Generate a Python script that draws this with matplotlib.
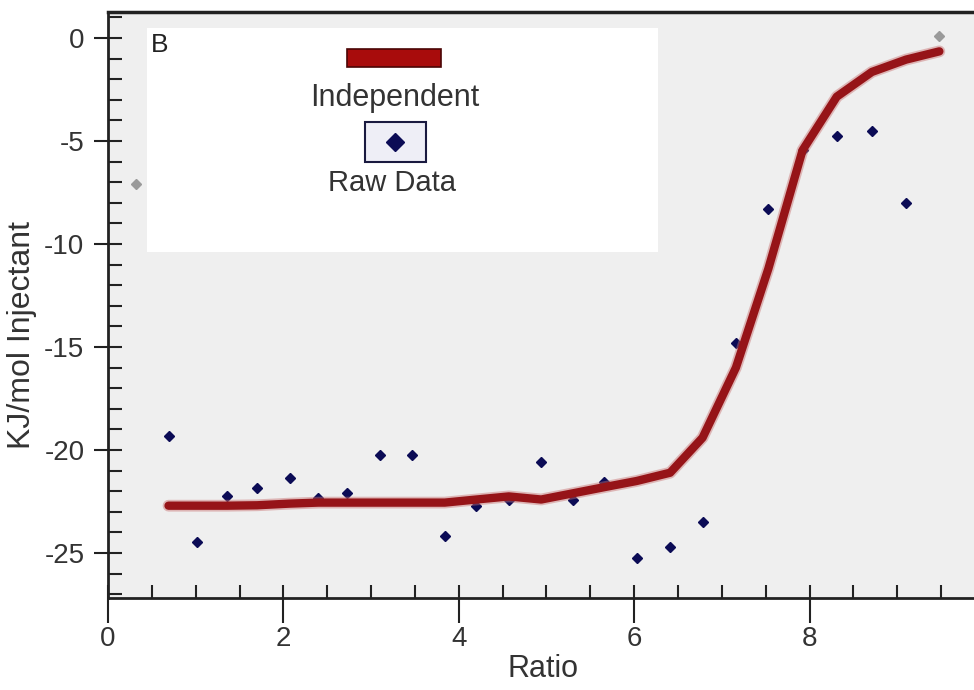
import matplotlib.pyplot as plt
from matplotlib.patches import Rectangle
from matplotlib.ticker import MultipleLocator

plt.rcParams['font.family'] = ['Liberation Sans', 'DejaVu Sans']
plt.rcParams['axes.unicode_minus'] = False

# injection molar ratios and integrated heats
ratio = [0.69, 1.02, 1.36, 1.70, 2.07, 2.40, 2.73, 3.10, 3.47, 3.84, 4.20, 4.57,
         4.94, 5.30, 5.66, 6.03, 6.41, 6.78, 7.16, 7.53, 7.92, 8.31, 8.71, 9.10]
raw = [-19.3, -24.45, -22.25, -21.85, -21.35, -22.35, -22.1, -20.25, -20.25, -24.15, -22.7, -22.4,
       -20.6, -22.4, -21.55, -25.25, -24.7, -23.5, -14.8, -8.3, -5.45, -4.75, -4.5, -8.0]
# points excluded from the fit (grey)
excl_ratio = [0.32, 9.48]
excl_raw = [-7.1, 0.1]
# independent-site fit curve
fit_ratio = ratio + [9.48]
fit = [-22.7, -22.7, -22.7, -22.68, -22.6, -22.55, -22.55, -22.55, -22.55, -22.55, -22.4, -22.25,
       -22.4, -22.1, -21.8, -21.5, -21.1, -19.4, -16.0, -11.2, -5.45, -2.85, -1.65, -1.05, -0.65]

fig = plt.figure(figsize=(9.74, 6.90), dpi=100)
ax = fig.add_axes([108/974, 92/690, 866/974, 586/690])
ax.set_facecolor('#efefef')

ax.plot(excl_ratio, excl_raw, 'D', color='#9a9a9a', ms=5, zorder=2)
ax.plot(ratio, raw, 'D', color='#0b0b55', ms=5, zorder=2)
ax.plot(fit_ratio, fit, color='#c87070', lw=8.5, alpha=0.45, solid_capstyle='round', zorder=3)
ax.plot(fit_ratio, fit, color='#961418', lw=6, solid_capstyle='round', zorder=4)

ax.set_xlim(0, 9.875)
ax.set_ylim(-27.18, 1.26)

# legend panel
ax.add_patch(Rectangle((0.045, 0.590), 0.59, 0.383, transform=ax.transAxes,
                       facecolor='white', edgecolor='none', zorder=1))
ax.text(0.050, 0.944, 'B', transform=ax.transAxes, fontsize=19, color='#222222',
        ha='left', va='center', zorder=5)
ax.add_patch(Rectangle((0.276, 0.9061), 0.1085, 0.0307, transform=ax.transAxes,
                       facecolor='#a80c0c', edgecolor='#4a0505', lw=1.2, zorder=5))
ax.text(0.3314, 0.853, 'Independent', transform=ax.transAxes, fontsize=22,
        color='#333333', ha='center', va='center', zorder=5)
ax.add_patch(Rectangle((0.2968, 0.744), 0.0704, 0.0683, transform=ax.transAxes,
                       facecolor='#eeeef6', edgecolor='#1a1a40', lw=1.5, zorder=5))
ax.plot([0.3314], [0.778], 'D', color='#0b0b55', ms=9, transform=ax.transAxes, zorder=6)
ax.text(0.328, 0.708, 'Raw Data', transform=ax.transAxes, fontsize=21,
        color='#333333', ha='center', va='center', zorder=5)

# axes styling
ax.spines['right'].set_visible(False)
ax.spines['left'].set_linewidth(2)
ax.spines['bottom'].set_linewidth(2)
ax.spines['top'].set_linewidth(2.5)
for s in ax.spines.values():
    s.set_color('#222222')

ax.set_xticks([0, 2, 4, 6, 8])
ax.xaxis.set_minor_locator(MultipleLocator(0.5))
ax.set_yticks([0, -5, -10, -15, -20, -25])
ax.yaxis.set_minor_locator(MultipleLocator(1))
ax.xaxis.remove_overlapping_locs = False
ax.yaxis.remove_overlapping_locs = False

ax.tick_params(axis='x', which='major', direction='out', length=18, width=1.5,
               color='#222222', pad=2, labelsize=20, labelcolor='#333333')
ax.tick_params(axis='x', which='minor', direction='in', length=9.5, width=1.5, color='#222222')
ax.tick_params(axis='y', which='major', direction='out', length=10, width=1.5,
               color='#222222', pad=7, labelsize=20, labelcolor='#333333')
ax.tick_params(axis='y', which='minor', direction='in', length=10, width=1.5, color='#222222')

ax.set_xlabel('Ratio', fontsize=22, color='#333333', va='center')
ax.xaxis.set_label_coords(0.502, -0.121)
ax.set_ylabel('KJ/mol Injectant', fontsize=23, color='#333333', va='center')
ax.yaxis.set_label_coords(-0.099, 0.449)

fig.savefig('out.png', dpi=100)
